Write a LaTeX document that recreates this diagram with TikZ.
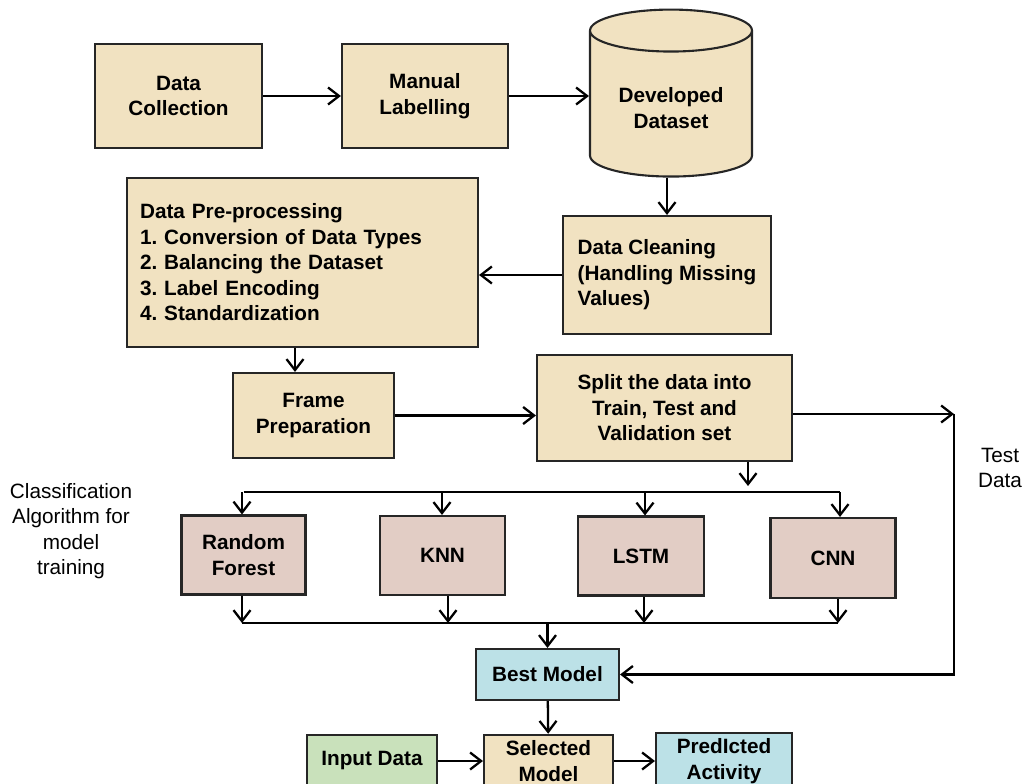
\documentclass[tikz,border=0pt]{standalone}
\usepackage{fontspec}
\setmainfont{Liberation Sans}
\usetikzlibrary{shapes.geometric,arrows.meta,positioning}
\definecolor{tanbox}{RGB}{241,226,193}
\definecolor{pinkbox}{RGB}{226,205,197}
\definecolor{bluebox}{RGB}{188,225,231}
\definecolor{greenbox}{RGB}{201,225,187}
\tikzset{
block/.style={rectangle, text centered, align=center, draw=black!85, line width=1.2pt, fill=tanbox, font=\fontsize{11.8}{14.5}\selectfont\bfseries\frenchspacing},
algo/.style={block, fill=pinkbox, minimum width=2.48cm, minimum height=1.58cm},
store/.style={cylinder, shape border rotate=90, aspect=0.36, draw=black!85, line width=1.2pt, fill=tanbox, align=center, font=\fontsize{11.8}{14.5}\selectfont\bfseries},
note/.style={align=center, font=\fontsize{11.8}{14.5}\selectfont},
arrow/.style={line width=1.3pt,->,>={Straight Barb[length=2.2mm,width=3.4mm]}},
noarrow/.style={line width=1.3pt}}

\begin{document}
\begin{tikzpicture}[x=0.02cm,y=-0.02cm]
\useasboundingbox (0,0) rectangle (1024,784);
\node (collect) [block, minimum width=3.34cm, minimum height=2.08cm] at (178.5,96) {Data\\Collection};
\node (labelling) [block, right of=collect, node distance=4.93cm, minimum width=3.32cm, minimum height=2.08cm] {Manual\\Labelling};
\node (dataset) [store, minimum width=3.24cm, minimum height=3.34cm] at (671,108) {Developed\\Dataset};
\node (clean) [block, align=left, minimum width=4.16cm, minimum height=2.36cm] at (667,275) {Data Cleaning\\(Handling Missing\\Values)};
\node (prep) [block, align=left, text width=6.5cm, minimum width=7.02cm, minimum height=3.38cm] at (302.5,262.5) {Data Pre-processing\\1. Conversion of Data Types\\2. Balancing the Dataset\\3. Label Encoding\\4. Standardization};
\node (frame) [block, minimum width=3.22cm, minimum height=1.7cm] at (313.5,415.5) {Frame\\Preparation};
\node (split) [block, minimum width=5.1cm, minimum height=2.12cm] at (664.5,408) {Split the data into\\Train, Test and\\Validation set};
\node (rf) [algo] at (243.5,555) {Random\\Forest};
\node (knn) [algo, minimum width=2.5cm] at (442.5,555.5) {KNN};
\node (lstm) [algo, minimum width=2.52cm] at (641,556) {LSTM};
\node (cnn) [algo, minimum width=2.5cm, minimum height=1.6cm] at (833,558) {CNN};
\node (best) [block, fill=bluebox, minimum width=2.86cm, minimum height=1.02cm] at (547.5,674.5) {Best Model};
\node (selected) [block, minimum width=2.58cm, minimum height=1.04cm] at (548.5,761) {Selected\\Model};
\node (input) [block, fill=greenbox, minimum width=2.6cm, minimum height=1.04cm] at (372,761) {Input Data};
\node (predicted) [block, fill=bluebox, minimum width=2.72cm, minimum height=1.04cm] at (724,761) {PredIcted\\Activity};
\node (testlabel) [note] at (1000,468) {Test\\Data};
\node (classlabel) [note] at (71,531) {Classification\\Algorithm for\\model\\training};
\coordinate (testturn) at (954,414);
\coordinate (splitdrop) at (748,486);
\coordinate (topbus) at (545,492);
\coordinate (lowbus) at (545,623);

\draw [arrow] (collect) -- (labelling);
\draw [arrow] (labelling.east) -- (labelling.east -| dataset.west);
\draw [arrow] (dataset.south -| clean) -- (clean);
\draw [arrow] (clean.west) -- (clean.west -| prep.east);
\draw [arrow] (prep.south -| 295,0) -- (frame.north -| 295,0);
\draw [arrow] (frame.east) -- (frame.east -| split.west);
\draw [arrow] (split.east |- testturn) -- (testturn);
\draw [arrow] (testturn) -- (testturn |- best) -- (best.east);
\draw [arrow] (splitdrop |- split.south) -- (splitdrop);
\draw [noarrow] (rf.north |- topbus) -- (topbus -| 840,0);
\foreach \m/\x in {rf/242,knn/442,lstm/645,cnn/840}
  \draw [arrow] (topbus -| \x,0) -- (\m.north -| \x,0);
\foreach \m/\x in {rf/242,knn/448,lstm/644,cnn/838}
  \draw [arrow] (\m.south -| \x,0) -- (lowbus -| \x,0);
\draw [noarrow] (lowbus -| 242,0) -- (lowbus -| 838,0);
\draw [arrow] (lowbus -| best) -- (best);
\draw [arrow] (best) -- (selected);
\draw [arrow] (input) -- (selected);
\draw [arrow] (selected) -- (predicted);
\end{tikzpicture}
\end{document}
